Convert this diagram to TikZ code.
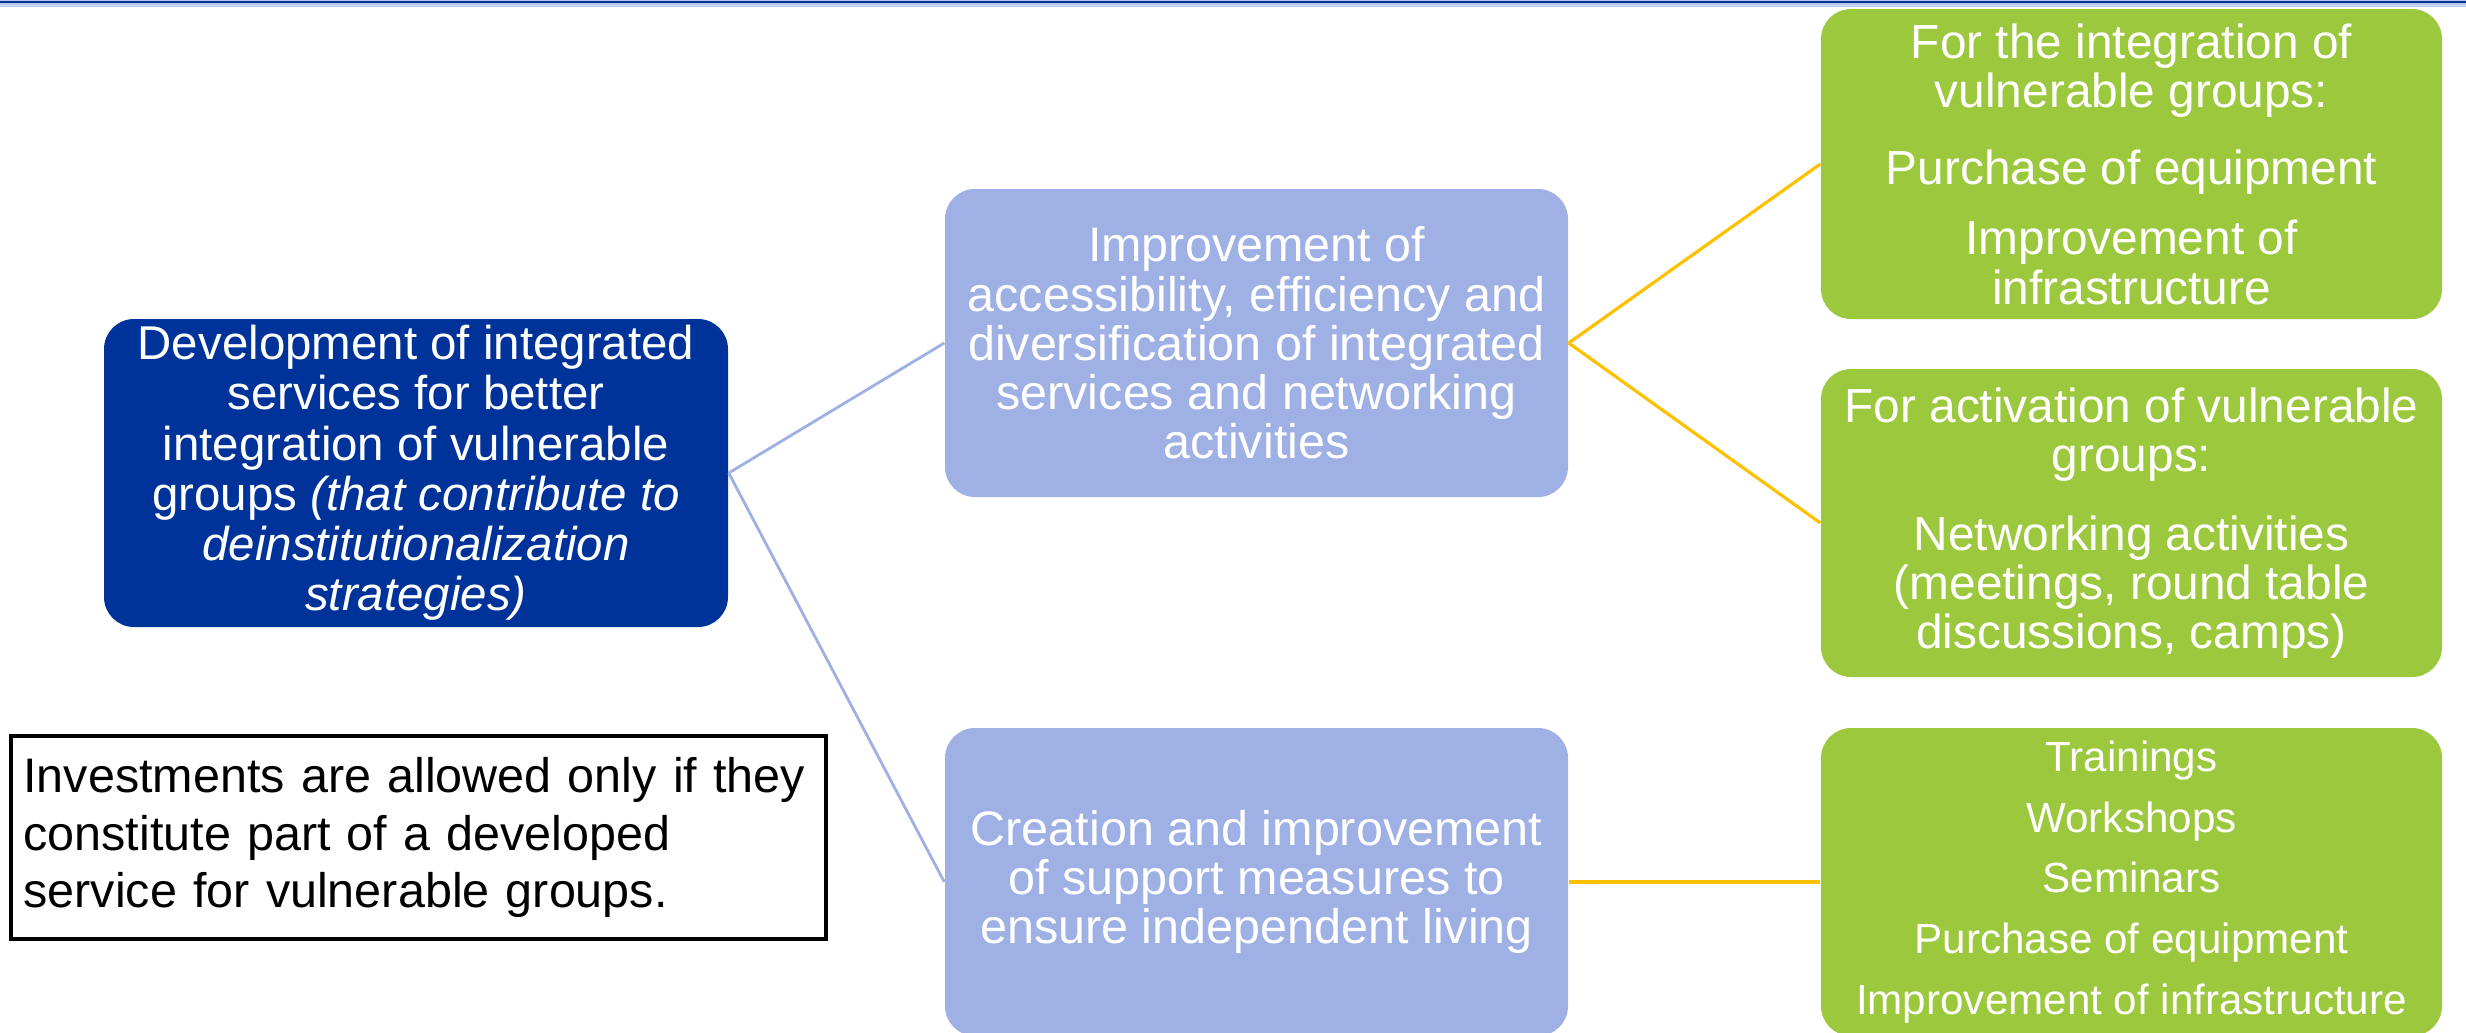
\documentclass[tikz,border=0pt]{standalone}
\usepackage{fontspec}
\setmainfont{Liberation Sans}
\usetikzlibrary{positioning}

\definecolor{topblue}{RGB}{0,51,153}
\definecolor{midblue}{RGB}{158,176,228}
\definecolor{leafgreen}{RGB}{155,200,60}
\definecolor{linkyellow}{RGB}{255,192,0}
\definecolor{bandblue}{RGB}{150,170,225}

\tikzset{
  mainbox/.style={fill=topblue, text=white, rounded corners=3mm, align=center,
    minimum width=62.4mm, minimum height=30.8mm, inner sep=0pt,
    font=\fontsize{13.5}{14.3}\selectfont},
  midbox/.style={fill=midblue, text=white, rounded corners=3mm, align=center,
    minimum width=62.3mm, minimum height=30.8mm, inner sep=0pt,
    font=\fontsize{13.8}{14}\selectfont},
  leafbox/.style={fill=leafgreen, text=white, rounded corners=3mm, align=center,
    minimum width=62.1mm, minimum height=30.8mm, inner sep=0pt,
    font=\fontsize{13.6}{14}\selectfont},
  notebox/.style={draw=black, line width=1pt, fill=white, align=left,
    text width=79mm, inner xsep=1.25mm, inner ysep=0pt, minimum height=20.3mm,
    font=\fontsize{13.8}{16.3}\selectfont},
  bluelink/.style={draw=midblue, line width=0.8pt},
  yellowlink/.style={draw=linkyellow, line width=0.9pt}
}

\begin{document}
\begin{tikzpicture}[x=0.1mm, y=-0.1mm]
\useasboundingbox (0,0) rectangle (2466,1032);
% top band
\fill[bandblue!70] (0,0) rectangle (2466,7);
\fill[topblue] (0,1) rectangle (2466,3);
\fill[white!60!bandblue] (0,4.5) rectangle (2466,5.2);

\node[mainbox] (dev) at (416,473) {Development of integrated\\services for better\\integration of vulnerable\\groups \textit{(that contribute to}\\\textit{deinstitutionalization}\\\textit{strategies)}};

\node[notebox] (note) at (418.5,837.5) {Investments are allowed only if they\\constitute part of a developed\\service for vulnerable groups.};

\node[midbox] (improve) at (1256.5,343) {Improvement of\\accessibility, efficiency and\\diversification of integrated\\services and networking\\activities};
\node[midbox] (create) at (1256.5,882) {Creation and improvement\\of support measures to\\ensure independent living};

\node[leafbox, minimum height=31mm] (integ) at (2131.5,164) {For the integration of\\vulnerable groups:\\[8pt]Purchase of equipment\\[6pt]Improvement of\\infrastructure};
\node[leafbox] (activ) at (2131.5,523) {For activation of vulnerable\\groups:\\[8.5pt]Networking activities\\(meetings, round table\\discussions, camps)};
\node[leafbox, font=\fontsize{12}{17.3}\selectfont] (train) at (2131.5,882) {Trainings\\Workshops\\Seminars\\Purchase of equipment\\Improvement of infrastructure};

\draw[bluelink] (dev.east) -- (improve.west);
\draw[bluelink] (dev.east) -- (create.west);
\draw[yellowlink] (improve.east) -- (integ.west);
\draw[yellowlink] (improve.east) -- (activ.west);
\draw[yellowlink] (create.east) -- (train.west);
\end{tikzpicture}
\end{document}
